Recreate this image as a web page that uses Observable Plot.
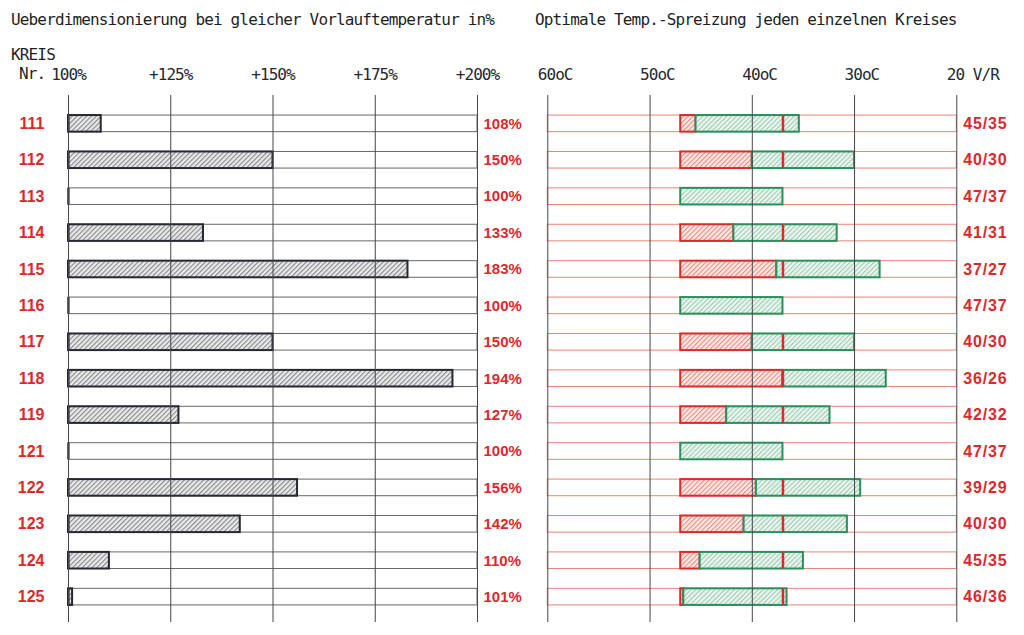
<!DOCTYPE html>
<html><head><meta charset="utf-8">
<script src="https://cdn.jsdelivr.net/npm/d3@7"></script>
<script src="https://cdn.jsdelivr.net/npm/@observablehq/plot@0.6"></script>
<style>
html,body{margin:0;padding:0;background:#fff;}
#wrap{position:relative;width:1024px;height:635px;overflow:hidden;background:#fff;}
.mono{position:absolute;font-family:"DejaVu Sans Mono",monospace;font-size:16px;letter-spacing:-0.85px;color:#1d1f24;white-space:nowrap;line-height:16px;}
#left,#right{position:absolute;top:0;}
#left{left:0;} #right{left:520px;}
g[font-family*="Mono"] text{letter-spacing:-0.95px;}
</style></head><body>
<div id="wrap">
 <div id="left"></div><div id="right"></div>
 <div class="mono" style="left:11px;top:11.5px">Ueberdimensionierung bei gleicher Vorlauftemperatur in%</div>
 <div class="mono" style="left:535px;top:11.5px">Optimale Temp.-Spreizung jeden einzelnen Kreises</div>
 <div class="mono" style="left:11px;top:46.5px">KREIS</div>
 <div class="mono" style="left:19px;top:65.5px">Nr.</div>
</div>
<script>
// ---- data ----
const kreis = ["111","112","113","114","115","116","117","118","119","121","122","123","124","125"];
const ueberdim = [108,150,100,133,183,100,150,194,127,100,156,142,110,101];
const spreizLabels = ["45/35","40/30","47/37","41/31","37/27","47/37","40/30","36/26","42/32","47/37","39/29","40/30","45/35","46/36"];
// supply / return temperatures as drawn in the chart
const vorlauf = [45.5,40,47,41.8,37.6,47,40,37,42.5,47,39.6,40.8,45.1,46.7];
const ruecklauf = [35.4,30,37,31.7,27.5,37,30,26.9,32.4,37,29.4,30.7,35,36.6];
const refVorlauf = 47, refRuecklauf = 37;
const leftTicks = [100,125,150,175,200];
const leftTickLabels = ["100%","+125%","+150%","+175%","+200%"];
const rightTicks = [60,50,40,30,20];
const rightTickLabels = ["60oC","50oC","40oC","30oC","20 V/R"];

const rows = kreis.map((k,i)=>({kreis:k, ueber:ueberdim[i], v:vorlauf[i], r:ruecklauf[i], spreiz:spreizLabels[i]}));

const RED = "#d92a2c", GREEN = "#2a8f5c", PINK = "#ec8378", DARK = "#25282e", GRID = "#44464b";
const MONO = "DejaVu Sans Mono, monospace";
const SANS = "Liberation Sans, Arial, sans-serif";

const yOpts = {domain: kreis, paddingInner: 0.544, paddingOuter: 0.51, align: 0.54, round: false, axis: null};

function svgOf(el) { return el.tagName.toLowerCase() === "svg" ? el : el.querySelector("svg"); }
function addPattern(el, id, bg, line) {
  const defs = d3.select(svgOf(el)).insert("defs", ":first-child");
  const s = 3.4;
  const p = defs.append("pattern").attr("id", id).attr("patternUnits","userSpaceOnUse")
    .attr("width", s).attr("height", s).attr("patternTransform","rotate(45)");
  p.append("rect").attr("width", s).attr("height", s).attr("fill", bg);
  p.append("line").attr("x1",0.6).attr("y1",0).attr("x2",0.6).attr("y2",s).attr("stroke",line).attr("stroke-width",1);
}

const leftPlot = Plot.plot({
  width: 520, height: 635, marginTop: 95, marginBottom: 13, marginLeft: 68, marginRight: 43,
  x: {domain: [leftTicks[0], leftTicks[leftTicks.length-1]], axis: null},
  y: yOpts,
  style: {background: "transparent", overflow: "visible"},
  marks: [
    Plot.barX(rows, {x1: leftTicks[0], x2: leftTicks[leftTicks.length-1], y: "kreis", fill: "none", stroke: "#65676b", strokeWidth: 1}),
    Plot.barX(rows, {x1: leftTicks[0], x2: "ueber", y: "kreis", fill: "url(#hatchGray)", stroke: DARK, strokeWidth: 2}),
    Plot.tickX(rows, {x: leftTicks[0], y: "kreis", stroke: DARK, strokeWidth: 2.2}),
    Plot.ruleX(leftTicks, {stroke: GRID, strokeWidth: 1}),
    Plot.text(leftTicks, {x: d=>d, text: (d,i)=>leftTickLabels[i], frameAnchor: "top", lineAnchor: "bottom", dy: -15.5, fontFamily: MONO, fontSize: 16, fill: DARK}),
    Plot.text(rows, {x: leftTicks[0], y: "kreis", text: "kreis", textAnchor: "end", dx: -24, fill: RED, fontFamily: SANS, fontWeight: "bold", fontSize: 16}),
    Plot.text(rows, {x: leftTicks[leftTicks.length-1], y: "kreis", text: d=>d.ueber+"%", textAnchor: "start", dx: 6, fill: RED, fontFamily: SANS, fontWeight: "bold", fontSize: 15})
  ]
});
addPattern(leftPlot, "hatchGray", "#e9e9e9", "#7c7e83");
document.getElementById("left").appendChild(leftPlot);

const rightPlot = Plot.plot({
  width: 504, height: 635, marginTop: 95, marginBottom: 13, marginLeft: 27.3, marginRight: 67.7,
  x: {domain: [rightTicks[0], rightTicks[rightTicks.length-1]], axis: null},
  y: yOpts,
  style: {background: "transparent", overflow: "visible"},
  marks: [
    Plot.barX(rows, {x1: rightTicks[0], x2: rightTicks[rightTicks.length-1], y: "kreis", fill: "none", stroke: PINK, strokeWidth: 1}),
    Plot.barX(rows.filter(d=>d.v<refVorlauf), {x1: refVorlauf, x2: "v", y: "kreis", fill: "url(#hatchRed)", stroke: RED, strokeWidth: 2}),
    Plot.barX(rows, {x1: "v", x2: "r", y: "kreis", fill: "url(#hatchGreen)", stroke: GREEN, strokeWidth: 2}),
    Plot.tickX(rows.filter(d=>d.v<refVorlauf), {x: refRuecklauf, y: "kreis", stroke: RED, strokeWidth: 2.5}),
    Plot.ruleX(rightTicks, {stroke: GRID, strokeWidth: 1}),
    Plot.text(rightTicks, {x: d=>d, text: (d,i)=>rightTickLabels[i], frameAnchor: "top", lineAnchor: "bottom", textAnchor: "start", dx: -10, dy: -15.5, fontFamily: MONO, fontSize: 16, fill: DARK}),
    Plot.text(rows, {x: rightTicks[rightTicks.length-1], y: "kreis", text: "spreiz", textAnchor: "start", dx: 6.5, fill: RED, fontFamily: SANS, fontWeight: "bold", fontSize: 16})
  ]
});
addPattern(rightPlot, "hatchRed", "#fce8e4", "#e5837a");
addPattern(rightPlot, "hatchGreen", "#eaf5ef", "#98c8ad");
d3.select(svgOf(rightPlot)).selectAll("text").filter(function(){ return /^\d+\/\d+$/.test(this.textContent); }).style("letter-spacing","0.8px");
document.getElementById("right").appendChild(rightPlot);
</script>
</body></html>
